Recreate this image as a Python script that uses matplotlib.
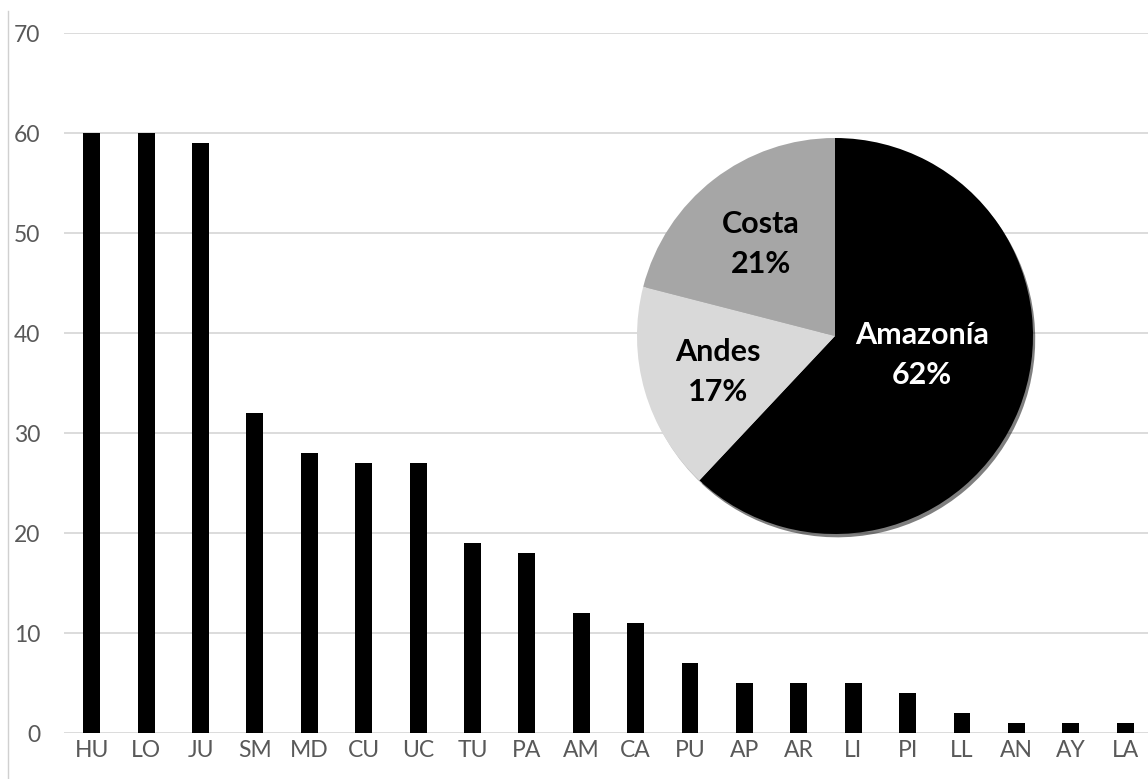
import matplotlib.pyplot as plt
from matplotlib.lines import Line2D

# bar data
regions = ["HU", "LO", "JU", "SM", "MD", "CU", "UC", "TU", "PA", "AM",
           "CA", "PU", "AP", "AR", "LI", "PI", "LL", "AN", "AY", "LA"]
counts = [60, 60, 59, 32, 28, 27, 27, 19, 18, 12,
          11, 7, 5, 5, 5, 4, 2, 1, 1, 1]

# pie data
zones = ["Amazonía", "Andes", "Costa"]
shares = [62, 17, 21]
zone_colors = ["#000000", "#d9d9d9", "#a6a6a6"]
label_colors = ["white", "black", "black"]

plt.rcParams["font.family"] = ["Lato", "DejaVu Sans"]

fig = plt.figure(figsize=(11.48, 7.79), dpi=100)

ax = fig.add_axes([64 / 1148, 46 / 779, 1 - 64 / 1148, 700 / 779])
x = list(range(len(regions)))
ax.bar(x, counts, width=0.31, color="black", zorder=3)
ax.set_xlim(-0.51, 19.42)
ax.set_ylim(0, 70)
ax.set_yticks(range(0, 71, 10))
ax.set_xticks(x)
ax.set_xticklabels(regions)
ax.grid(True, axis="y", color="#d9d9d9", linewidth=1.3, zorder=0)
ax.set_axisbelow(True)
for s in ["top", "right", "left", "bottom"]:
    ax.spines[s].set_visible(False)
ax.tick_params(axis="both", length=0, labelsize=16.5, labelcolor="#595959")
ax.tick_params(axis="y", pad=17)
ax.tick_params(axis="x", pad=5)

# thin frame line on the left
fig.add_artist(Line2D([8 / 1148, 8 / 1148], [0, 1 - 11 / 779],
                      transform=fig.transFigure, color="#d0d0d0", linewidth=1))

# inset pie
ax2 = fig.add_axes([635 / 1148, 243 / 779, 400 / 1148, 400 / 779])
wedges, _ = ax2.pie(shares, colors=zone_colors, startangle=90, counterclock=False,
                    radius=0.99, wedgeprops=dict(linewidth=0),
                    shadow=dict(ox=0.008, oy=-0.012, shade=0.4))
ax2.set_xlim(-1, 1)
ax2.set_ylim(-1, 1)
ax2.set_aspect("equal")
ax2.axis("off")

label_pos = [(0.435, -0.095), (-0.585, -0.18), (-0.37, 0.46)]
for name, share, pos, c in zip(zones, shares, label_pos, label_colors):
    ax2.text(pos[0], pos[1], f"{name}\n{share}%", ha="center", va="center",
             fontsize=22, fontweight="bold", color=c, linespacing=1.5)

plt.savefig("out.png", dpi=100)
